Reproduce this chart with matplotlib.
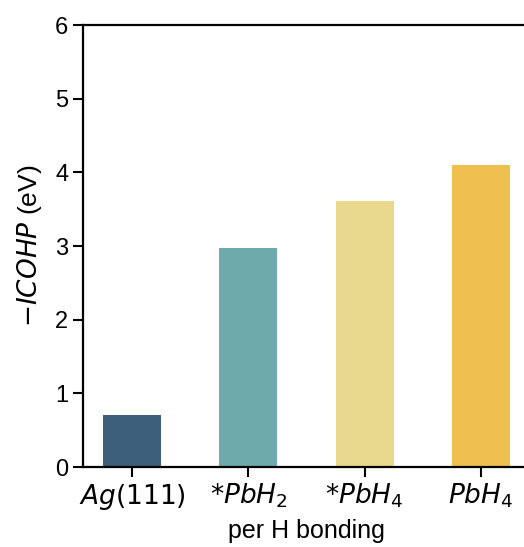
import numpy as np
import matplotlib
matplotlib.use('Agg')
import matplotlib.pyplot as plt

plt.rcParams['font.family'] = ['Liberation Sans', 'DejaVu Sans']
plt.rcParams['mathtext.fontset'] = 'dejavusans'
plt.rcParams['font.size'] = 17

labels = [r'$Ag(111)$', r'$*PbH_2$', r'$*PbH_4$', r'$PbH_4$']
icohp = [0.71, 2.97, 3.61, 4.10]
colors = ['#3d5f7c', '#6eaaac', '#e8d98c', '#efbf50']

fig = plt.figure(figsize=(5.24, 5.47), dpi=100)
ax = fig.add_axes([0.158, 0.146, 0.854, 0.808])

x = np.arange(len(labels))
ax.bar(x, icohp, width=0.5, color=colors)
ax.set_xticks(x)
ax.set_xticklabels(labels, fontsize=19)
ax.set_ylim(0, 6)
ax.set_xlim(-0.425, 3.425)
ax.set_ylabel(r'$-ICOHP$ (eV)', fontsize=19, labelpad=8)
ax.set_xlabel('per H bonding', fontsize=18, labelpad=5)

for s in ax.spines.values():
    s.set_linewidth(1.6)
ax.tick_params(width=1.5, length=7)

plt.savefig("out.png", dpi=100)
